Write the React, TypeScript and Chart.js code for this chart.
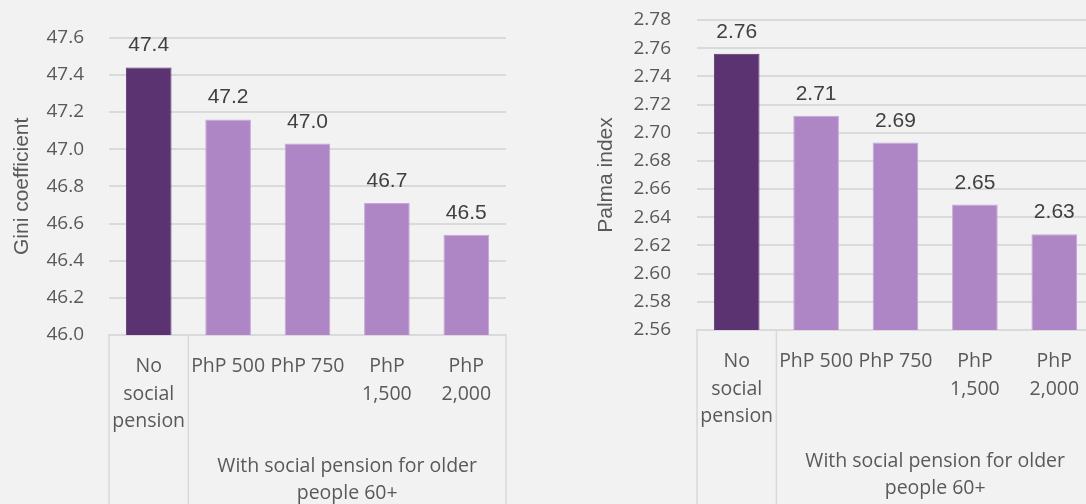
import React, { useEffect, useRef } from "react";
import { Chart, registerables } from "chart.js";

Chart.register(...registerables);

// ---- data ----
const categoryLines: string[][] = [
  ["No", "social", "pension"],
  ["PhP 500"],
  ["PhP 750"],
  ["PhP", "1,500"],
  ["PhP", "2,000"],
];
const groupLines: string[][] = [[], ["With social pension for older", "people 60+"]];
const groupStart = [0, 1];
const groupEnd = [0, 4];

const giniValues = [47.44, 47.16, 47.03, 46.71, 46.54];
const palmaValues = [2.756, 2.712, 2.693, 2.649, 2.628];

const giniTicks = { min: 46.0, max: 47.6, step: 0.2, decimals: 1 };
const palmaTicks = { min: 2.56, max: 2.78, step: 0.02, decimals: 2 };

const DARK = "#5B3371";
const LIGHT = "#AE85C5";
const LIGHT_EDGE = "#C6A6D9";
const barFill = [DARK, LIGHT, LIGHT, LIGHT, LIGHT];
const barEdge = [DARK, LIGHT_EDGE, LIGHT_EDGE, LIGHT_EDGE, LIGHT_EDGE];

type PanelProps = {
  values: number[];
  ticks: { min: number; max: number; step: number; decimals: number };
  title: string;
  left: number;
  top: number;
  bottom: number;
  titleOffset: number;
  tickPad: number;
};

const W = 543;
const H = 504;

function Panel(p: PanelProps) {
  const ref = useRef<HTMLCanvasElement | null>(null);
  useEffect(() => {
    if (!ref.current) return;
    const overlay = {
      id: "overlay",
      afterDraw(chart: any) {
        const { ctx, chartArea } = chart;
        const xs = chart.scales.x;
        const meta = chart.getDatasetMeta(0);
        ctx.save();
        // value labels
        ctx.font = '21px "Liberation Sans", Arial, sans-serif';
        ctx.fillStyle = "#404040";
        ctx.textAlign = "center";
        ctx.textBaseline = "alphabetic";
        meta.data.forEach((bar: any, i: number) => {
          ctx.fillText(p.values[i].toFixed(p.ticks.decimals), bar.x, bar.y - 16);
        });
        // category labels
        ctx.font = '19.5px "Open Sans", sans-serif';
        ctx.fillStyle = "#595959";
        categoryLines.forEach((lines, i) => {
          const cx = xs.getPixelForValue(i);
          lines.forEach((t, j) => ctx.fillText(t, cx, chartArea.bottom + 37 + j * 27.7));
        });
        // group labels
        groupLines.forEach((lines, g) => {
          const x0 = xs.getPixelForValue(groupStart[g] - 0.5);
          const x1 = xs.getPixelForValue(groupEnd[g] + 0.5);
          const cx = (x0 + x1) / 2;
          lines.forEach((t, j) => ctx.fillText(t, cx, chartArea.bottom + 136.5 + j * 27.7));
        });
        // separators
        ctx.strokeStyle = "#d9d9d9";
        ctx.lineWidth = 1.5;
        const edges = new Set<number>();
        groupStart.forEach((s) => edges.add(s - 0.5));
        groupEnd.forEach((e) => edges.add(e + 0.5));
        edges.forEach((v) => {
          const x = xs.getPixelForValue(v);
          ctx.beginPath();
          ctx.moveTo(x, chartArea.bottom);
          ctx.lineTo(x, chart.height);
          ctx.stroke();
        });
        ctx.restore();
      },
    };
    const chart = new Chart(ref.current, {
      type: "bar",
      data: {
        labels: categoryLines.map((l) => l.join(" ")),
        datasets: [
          {
            data: p.values,
            backgroundColor: barFill,
            borderColor: barEdge,
            borderWidth: 1,
            categoryPercentage: 1,
            barPercentage: 0.575,
          },
        ],
      },
      options: {
        responsive: false,
        animation: false,
        devicePixelRatio: 1,
        layout: { padding: { left: 0, right: W - 506, top: p.top, bottom: H - 169 - p.bottom } },
        plugins: { legend: { display: false }, tooltip: { enabled: false } },
        scales: {
          x: {
            type: "category",
            grid: { display: false, drawTicks: false },
            ticks: { display: false },
            border: { display: true, color: "#d9d9d9", width: 1.5 },
            afterFit: (s: any) => {
              s.height = 169;
            },
          },
          y: {
            min: p.ticks.min,
            max: p.ticks.max,
            ticks: {
              stepSize: p.ticks.step,
              padding: p.tickPad,
              color: "#595959",
              font: { family: '"Open Sans", sans-serif', size: 19 },
              callback: (v: any) => Number(v).toFixed(p.ticks.decimals),
            },
            grid: { color: "#dadada", lineWidth: 2, drawTicks: false },
            border: { display: false },
            title: {
              display: true,
              text: p.title,
              color: "#595959",
              font: { family: '"Liberation Sans", Arial, sans-serif', size: 21 },
              padding: { top: p.titleOffset, bottom: 0 },
            },
            afterFit: (s: any) => {
              s.width = 109;
              s.paddingTop = 0;
              s.paddingBottom = 0;
            },
          },
        },
      },
      plugins: [overlay],
    });
    return () => chart.destroy();
  }, []);
  return (
    <canvas
      ref={ref}
      width={W}
      height={H}
      style={{ position: "absolute", left: p.left, top: 0, width: W, height: H }}
    />
  );
}

export default function App() {
  return (
    <div
      style={{
        position: "fixed",
        left: 0,
        top: 0,
        width: 1086,
        height: 504,
        overflow: "hidden",
        background: "#f2f2f2",
      }}
    >
      <Panel
        values={giniValues}
        ticks={giniTicks}
        title="Gini coefficient"
        left={0}
        top={37.7}
        bottom={335}
        titleOffset={9.9}
        tickPad={25}
      />
      <Panel
        values={palmaValues}
        ticks={palmaTicks}
        title="Palma index"
        left={588}
        top={20}
        bottom={330}
        titleOffset={5.4}
        tickPad={26}
      />
    </div>
  );
}
